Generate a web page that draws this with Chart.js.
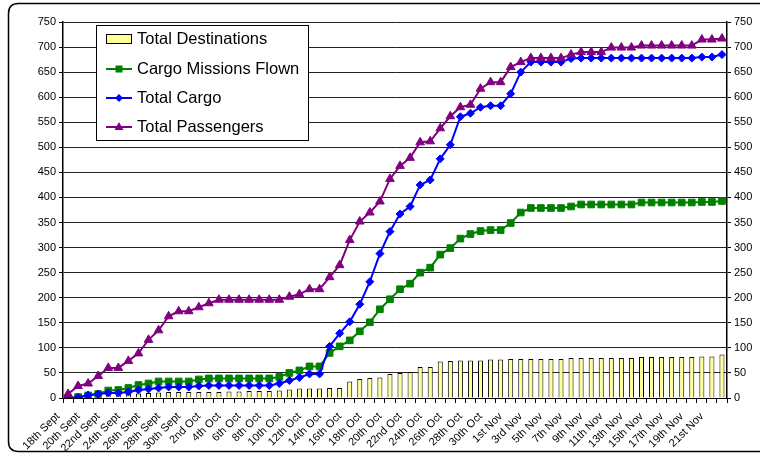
<!DOCTYPE html>
<html>
<head>
<meta charset="utf-8">
<script src="https://cdn.jsdelivr.net/npm/chart.js@4.4.1/dist/chart.umd.min.js"></script>
<style>
html,body{margin:0;padding:0;background:#fff;}
#wrap{width:760px;height:456px;position:relative;}
</style>
</head>
<body>
<div id="wrap"><canvas id="c" width="760" height="456"></canvas></div>
<script>
const categories = [
  "18th Sept","19th Sept","20th Sept","21st Sept","22nd Sept","23rd Sept","24th Sept","25th Sept","26th Sept","27th Sept","28th Sept","29th Sept","30th Sept",
  "1st Oct","2nd Oct","3rd Oct","4th Oct","5th Oct","6th Oct","7th Oct","8th Oct","9th Oct","10th Oct","11th Oct","12th Oct","13th Oct","14th Oct","15th Oct","16th Oct","17th Oct","18th Oct","19th Oct","20th Oct","21st Oct","22nd Oct","23rd Oct","24th Oct","25th Oct","26th Oct","27th Oct","28th Oct","29th Oct","30th Oct","31st Oct",
  "1st Nov","2nd Nov","3rd Nov","4th Nov","5th Nov","6th Nov","7th Nov","8th Nov","9th Nov","10th Nov","11th Nov","12th Nov","13th Nov","14th Nov","15th Nov","16th Nov","17th Nov","18th Nov","19th Nov","20th Nov","21st Nov","22nd Nov"
];
const totalDestinations = [
  2,3,4,5,6,7,8,9,10,11,12,12,12,12,12,12,13,13,14,14,14,15,17,19,19,19,20,20,33,38,40,41,48,50,52,62,62,73,74,75,75,75,77,77,
  78,78,78,78,78,78,80,80,80,80,80,80,80,82,82,82,82,82,82,83,83,87
];
const cargoMissionsFlown = [
  0,2,5,8,15,16,20,26,29,33,33,33,33,37,39,39,39,39,39,39,39,42,50,55,63,63,90,103,115,133,151,177,197,217,228,250,260,286,299,318,327,333,335,335,
  349,370,379,379,379,379,382,386,386,386,386,386,386,390,390,390,390,390,390,391,391,393
];
const totalCargo = [
  0,1,6,8,10,10,12,16,18,20,22,22,22,24,25,25,25,25,25,25,25,29,35,41,48,48,103,129,152,187,232,288,332,367,382,425,435,477,505,561,568,580,583,583,
  607,650,670,670,670,670,677,678,678,678,678,678,678,678,678,678,678,678,678,680,680,685
];
const totalPassengers = [
  8,24,29,44,60,60,74,89,116,135,163,173,173,181,189,196,196,196,196,196,196,196,202,207,217,217,241,265,315,352,370,392,437,463,479,510,512,538,562,580,585,617,630,630,
  660,670,678,678,678,678,685,690,690,690,699,699,699,703,703,703,703,703,703,715,715,717
];
const seriesNames = ["Total Destinations","Cargo Missions Flown","Total Cargo","Total Passengers"];
const yMin = 0, yMax = 750, yStep = 50;

const FONT = "'Liberation Sans', Arial, sans-serif";
const GREEN = '#008000', BLUE = '#0000FF', PURPLE = '#800080', YELLOW = '#FFFF99';

const framePlugin = {
  id: 'frame',
  afterDraw(chart) {
    const ctx = chart.ctx;
    ctx.save();
    ctx.strokeStyle = '#000';
    ctx.lineWidth = 1.5;
    const x0 = 8.5, y0 = 3.5, x1 = 790, y1 = 451.5, r = 10;
    ctx.beginPath();
    ctx.moveTo(x1, y0);
    ctx.lineTo(x0 + r, y0);
    ctx.quadraticCurveTo(x0, y0, x0, y0 + r);
    ctx.lineTo(x0, y1 - r);
    ctx.quadraticCurveTo(x0, y1, x0 + r, y1);
    ctx.lineTo(x1, y1);
    ctx.stroke();

    const lx = 96.5, ly = 25.5, lw = 212, lh = 115;
    ctx.fillStyle = '#fff';
    ctx.fillRect(lx, ly, lw, lh);
    ctx.lineWidth = 1;
    ctx.strokeStyle = '#000';
    ctx.strokeRect(lx, ly, lw, lh);

    const rows = [39.5, 69, 98, 127];
    const colors = [null, GREEN, BLUE, PURPLE];
    ctx.font = '16.5px ' + FONT;
    ctx.textBaseline = 'middle';
    ctx.textAlign = 'left';
    for (let k = 0; k < 4; k++) {
      const yy = rows[k];
      if (k === 0) {
        ctx.fillStyle = YELLOW;
        ctx.fillRect(106.5, yy - 5, 25, 9);
        ctx.strokeStyle = '#000';
        ctx.lineWidth = 1;
        ctx.strokeRect(106.5, yy - 5, 25, 9);
      } else {
        const c = colors[k];
        ctx.strokeStyle = c;
        ctx.lineWidth = 2;
        ctx.beginPath();
        ctx.moveTo(106, yy);
        ctx.lineTo(132, yy);
        ctx.stroke();
        ctx.fillStyle = c;
        const cx = 119;
        ctx.beginPath();
        if (k === 1) {
          ctx.rect(cx - 3.5, yy - 3.5, 7, 7);
        } else if (k === 2) {
          ctx.moveTo(cx, yy - 4); ctx.lineTo(cx + 4, yy); ctx.lineTo(cx, yy + 4); ctx.lineTo(cx - 4, yy); ctx.closePath();
        } else {
          ctx.moveTo(cx, yy - 5); ctx.lineTo(cx + 4.5, yy + 3); ctx.lineTo(cx - 4.5, yy + 3); ctx.closePath();
        }
        ctx.fill();
      }
      ctx.fillStyle = '#000';
      ctx.fillText(seriesNames[k], 137, yy);
    }
    ctx.restore();
  }
};

const tickFont = { family: FONT, size: 11 };

new Chart(document.getElementById('c'), {
  type: 'bar',
  data: {
    labels: categories,
    datasets: [
      {
        type: 'bar', label: seriesNames[0], data: totalDestinations, yAxisID: 'y',
        backgroundColor: YELLOW, borderColor: '#000', borderWidth: 1,
        barPercentage: 0.5, categoryPercentage: 1.0, order: 3
      },
      {
        type: 'line', label: seriesNames[1], data: cargoMissionsFlown, yAxisID: 'y',
        borderColor: GREEN, backgroundColor: GREEN, borderWidth: 2,
        pointStyle: 'rect', pointRadius: 4.7, pointBorderWidth: 1, pointBorderColor: GREEN, pointBackgroundColor: GREEN,
        tension: 0, fill: false, order: 2
      },
      {
        type: 'line', label: seriesNames[2], data: totalCargo, yAxisID: 'y',
        borderColor: BLUE, backgroundColor: BLUE, borderWidth: 2,
        pointStyle: 'rectRot', pointRadius: 4, pointBorderWidth: 1, pointBorderColor: BLUE, pointBackgroundColor: BLUE,
        tension: 0, fill: false, order: 1
      },
      {
        type: 'line', label: seriesNames[3], data: totalPassengers, yAxisID: 'y',
        borderColor: PURPLE, backgroundColor: PURPLE, borderWidth: 2,
        pointStyle: 'triangle', pointRadius: 5, pointBorderWidth: 1, pointBorderColor: PURPLE, pointBackgroundColor: PURPLE,
        tension: 0, fill: false, order: 0
      }
    ]
  },
  options: {
    responsive: false,
    devicePixelRatio: 1,
    animation: false,
    layout: { padding: { top: 22, left: 0, right: 0, bottom: 0 } },
    plugins: { legend: { display: false }, tooltip: { enabled: false } },
    scales: {
      x: {
        type: 'category',
        offset: true,
        grid: { display: true, drawOnChartArea: false, drawTicks: true, tickLength: 5, color: '#000', offset: true },
        border: { display: true, color: '#000', width: 1 },
        ticks: {
          autoSkip: false, maxRotation: 45, minRotation: 45, color: '#000', font: tickFont, padding: 7, labelOffset: -10,
          callback: function(v, i) { return i % 2 === 0 ? categories[i] : ''; }
        },
        afterFit: function(s) { s.height = 58; s.paddingLeft = 0; s.paddingRight = 0; }
      },
      y: {
        position: 'left', min: yMin, max: yMax,
        ticks: { stepSize: yStep, color: '#000', font: tickFont, padding: 3 },
        grid: { color: '#222', lineWidth: 1, drawTicks: true, tickLength: 4, tickColor: '#000' },
        border: { display: true, color: '#000', width: 1.5 },
        afterFit: function(s) { s.width = 63; }
      },
      y2: {
        position: 'right', min: yMin, max: yMax,
        ticks: { stepSize: yStep, color: '#000', font: tickFont, padding: 3 },
        grid: { drawOnChartArea: false, drawTicks: true, tickLength: 4, tickColor: '#000', color: '#000' },
        border: { display: true, color: '#000', width: 1.5 },
        afterFit: function(s) { s.width = 33; }
      }
    }
  },
  plugins: [framePlugin]
});
</script>
</body>
</html>
